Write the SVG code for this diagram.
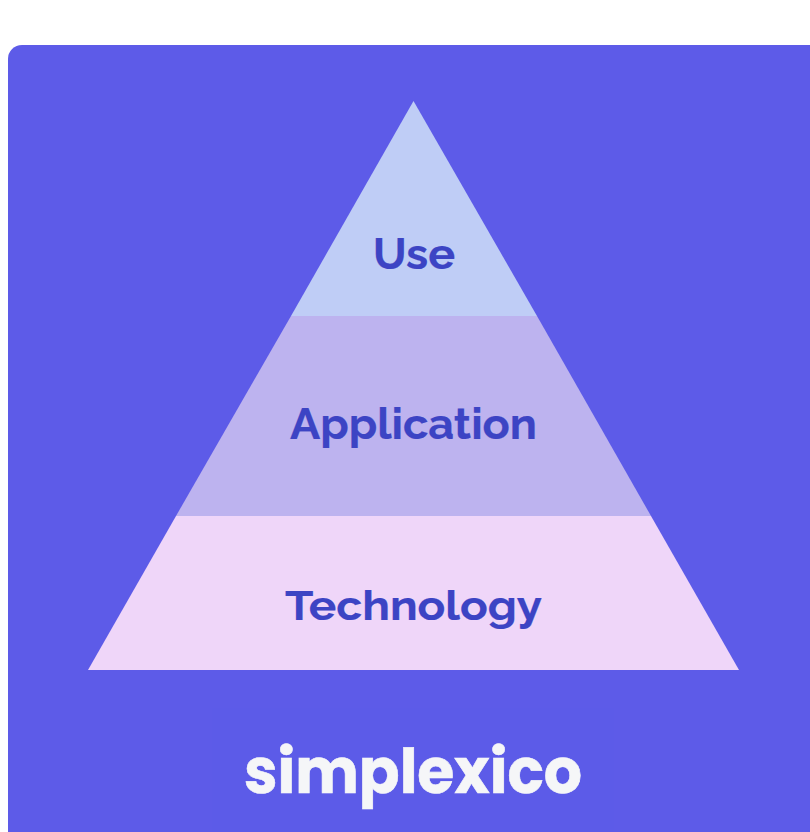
<svg xmlns="http://www.w3.org/2000/svg" width="810" height="832" viewBox="0 0 810 832">
<style>
.l{font-family:Raleway,"Open Sans","Noto Sans",sans-serif;font-weight:700;fill:#3c44c4;stroke:#3c44c4;stroke-width:.2;text-anchor:middle}
</style>
<rect width="810" height="832" fill="#ffffff"/>
<path d="M8 832V59a14 14 0 0 1 14-14H810V832Z" fill="#5d5be8"/>
<g id="use"><polygon points="413.500,101 291,316 537,316" fill="#bfcdf6"/><text class="l" x="414" y="269" font-size="43" textLength="82" lengthAdjust="spacingAndGlyphs">Use</text></g>
<g id="application"><polygon points="291,316 537,316 651,516 176,516" fill="#bdb3ef"/><text class="l" x="413.500" y="439" font-size="43" textLength="247" lengthAdjust="spacingAndGlyphs">Application</text></g>
<g id="technology"><polygon points="176,516 651,516 739,670 88,670" fill="#efd6f9"/><text class="l" x="413.500" y="620" font-size="41" textLength="257" lengthAdjust="spacingAndGlyphs">Technology</text></g>
<g id="logo"><rect x="212" y="708" width="402" height="124" fill="#5c5be8"/><text x="413" y="793" font-family="Poppins,Montserrat,Inter,sans-serif" font-weight="700" font-size="62" fill="#f5f6f8" stroke="#f5f6f8" stroke-width=".6" text-anchor="middle" textLength="338" lengthAdjust="spacingAndGlyphs">simplexico</text></g>
<g id="connectors"/>
</svg>
